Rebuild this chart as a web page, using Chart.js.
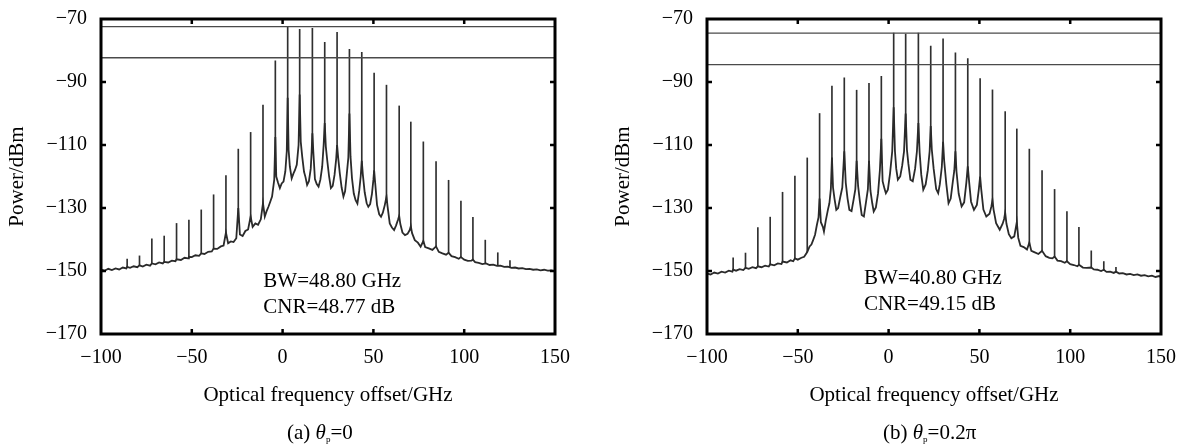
<!DOCTYPE html>
<html>
<head>
<meta charset="utf-8">
<script src="https://cdn.jsdelivr.net/npm/chart.js@4.4.1/dist/chart.umd.min.js"></script>
<style>
    html, body { margin: 0; padding: 0; background: #fff; }
    body { width: 1192px; height: 445px; position: relative; overflow: hidden;
           font-family: "Liberation Serif", "Times New Roman", serif; }
    canvas { position: absolute; top: 0; }
    .caption { position: absolute; top: 420px; font-size: 21px; line-height: 25px; color: #000; white-space: nowrap; }
    .caption sub { font-size: 9px; vertical-align: -3px; }
</style>
</head>
<body>
<canvas id="chartA" width="580" height="445" style="left:0"></canvas>
<canvas id="chartB" width="580" height="445" style="left:606px"></canvas>
<div class="caption" style="left:287px">(a) <i>θ</i><sub>p</sub>=0</div>
<div class="caption" style="left:883px">(b) <i>θ</i><sub>p</sub>=0.2π</div>
<script>
const FONT = '"Liberation Serif", "Times New Roman", serif';

// Limites dos eixos (iguais nos dois gráficos)
const freqMin = -100, freqMax = 150;
const powMin = -170, powMax = -70;

// Linhas do pente óptico (GHz) - mesmas posições em (a) e (b)
const combFreq = [-85.6, -78.8, -72.0, -65.2, -58.4, -51.6, -44.8, -38.0, -31.2, -24.4, -17.6, -10.8, -4.0,
    2.8, 9.4, 16.4, 23.2, 30.0, 36.8, 43.6, 50.4, 57.2, 64.2, 70.6, 77.5, 84.5, 91.4, 98.2, 104.8, 111.6, 118.5, 125.2];

/* ---------- (a) θp = 0 ---------- */
const combPeakA = [-146.2, -145.2, -139.8, -138.9, -134.9, -133.8, -130.6, -125.8, -119.7, -111.3, -106.0, -97.3, -83.3,
    -72.4, -73.3, -73.0, -77.4, -74.2, -79.6, -80.6, -87.2, -91.0, -97.6, -102.7, -109.0, -115.3, -121.2, -127.8, -133.0, -140.2, -144.2, -146.7];

const floorFreqA = [
    -100, -98, -96, -94, -92, -90, -88, -86, -85.6, -84, -82, -80, -78.8, -77, -75, -73, -72, -70, -68, -66,
    -65.2, -63, -61, -59, -58.4, -56, -54, -52, -51.6, -50, -48, -46, -44.8, -43, -41, -39, -38, -36, -34, -32.5,
    -31.2, -30, -28.5, -27, -25.5, -24.4, -23.5, -22, -20.5, -19, -17.6, -16.5, -15, -13.5, -12, -10.8, -9.8, -8.8, -7.8, -6.8,
    -5.8, -4.6, -4.0, -3.5, -2.5, -1.5, -0.5, 0.5, 1.5, 2.3, 2.8, 3.3, 4.0, 5.0, 6.0, 6.8, 7.8, 8.8, 9.4, 10.0,
    10.8, 11.8, 12.6, 13.5, 14.5, 15.5, 16.0, 16.4, 16.9, 17.8, 18.8, 19.8, 20.8, 21.8, 22.6, 23.2, 23.8, 24.6, 25.6, 26.6,
    27.6, 28.6, 29.5, 30.0, 30.6, 31.5, 32.5, 33.5, 34.4, 35.3, 36.2, 36.8, 37.4, 38.2, 39.2, 40.2, 41.2, 42.2, 43.0, 43.6,
    44.2, 45.2, 46.3, 47.2, 48.2, 49.2, 50.0, 50.4, 50.9, 52.0, 53.2, 54.2, 55.2, 56.3, 57.2, 57.8, 59.0, 60.2, 61.4, 62.5,
    63.5, 64.2, 64.8, 66.0, 67.4, 68.8, 70.0, 70.6, 71.3, 72.8, 74.5, 76.0, 77.5, 78.5, 80.5, 82.5, 84.5, 86, 88, 90,
    91.4, 93, 95, 97, 98.2, 100, 102, 104, 104.8, 106, 108, 110, 112, 114, 116, 118, 120, 122, 124, 126,
    128, 130, 132, 134, 136, 138, 140, 142, 144, 146, 148, 150];
const floorPowA = [
    -149.6, -149.9, -149.3, -149.7, -149.2, -149.5, -148.9, -149.2, -148.7, -149.0, -148.5, -148.8, -148.2, -148.6, -148.0, -148.3, -147.6, -147.9, -147.3, -147.6,
    -147.1, -147.3, -146.7, -146.9, -146.3, -146.5, -145.8, -146.0, -145.5, -145.6, -145.0, -145.2, -144.4, -144.6, -143.9, -143.8, -142.9, -143.0, -142.2, -141.9,
    -137.8, -141.2, -140.6, -140.8, -139.6, -130.0, -138.4, -138.9, -137.3, -136.8, -132.7, -136.0, -134.9, -135.3, -133.6, -128.5, -132.7, -131.0, -129.6, -128.0,
    -126.4, -121.0, -107.5, -120.0, -122.0, -123.7, -122.2, -121.6, -118.4, -112.0, -95.0, -111.5, -116.9, -120.6, -119.0, -118.0, -116.3, -110.0, -94.0, -109.0,
    -113.7, -118.5, -120.2, -122.7, -121.5, -117.5, -112.0, -106.3, -112.0, -120.8, -122.4, -123.2, -121.0, -116.9, -110.0, -103.0, -110.5, -115.0, -120.0, -123.7,
    -123.0, -119.5, -114.5, -110.0, -114.0, -119.0, -123.5, -126.4, -124.7, -119.5, -114.0, -100.0, -113.7, -120.5, -125.4, -127.5, -128.6, -124.5, -120.0, -115.0,
    -119.5, -125.0, -128.5, -129.6, -128.8, -125.5, -121.0, -118.0, -121.5, -129.0, -132.0, -132.8, -131.5, -129.0, -126.4, -129.5, -134.9, -136.2, -137.0, -135.5,
    -133.8, -132.5, -135.0, -137.8, -138.6, -138.2, -137.0, -135.8, -138.0, -140.2, -141.0, -142.3, -140.5, -142.4, -142.8, -143.3, -142.2, -143.9, -144.4, -144.8,
    -144.2, -145.3, -145.6, -146.1, -145.6, -146.4, -146.8, -146.7, -146.4, -147.2, -147.4, -147.8, -147.6, -148.1, -148.0, -148.4, -148.3, -148.7, -148.6, -149.0,
    -148.9, -149.2, -149.1, -149.4, -149.3, -149.6, -149.5, -149.8, -149.6, -149.9, -149.8, -150.1];

const refLevelsA = [-72.4, -82.3];
const notesA = ['BW=48.80 GHz', 'CNR=48.77 dB'];

/* ---------- (b) θp = 0.2π ---------- */
const combPeakB = [-145.8, -144.3, -136.2, -132.9, -125.0, -119.9, -114.1, -100.0, -91.3, -88.7, -92.6, -90.4, -88.2,
    -74.5, -74.8, -74.5, -78.6, -76.3, -80.7, -82.6, -88.9, -92.5, -99.4, -104.9, -111.3, -118.1, -124.1, -131.1, -136.1, -143.6, -147.0, -148.8];

const floorFreqB = [
    -100, -98, -96, -94, -92, -90, -88, -86, -85.6, -84, -82, -80, -78.8, -77, -75, -73, -72, -70, -68, -66,
    -65.2, -63, -61, -59, -58.4, -56, -54, -52.5, -51.6, -50, -48, -46.5, -44.8, -43.5, -42.5, -41.5, -40.5, -39.5, -38.6, -38.0,
    -37.3, -36.2, -35.6, -34.6, -33.4, -32.6, -31.8, -31.2, -30.6, -29.8, -28.8, -27.8, -26.6, -25.5, -24.4, -23.6, -22.6, -21.6, -20.4, -19.3,
    -18.3, -17.6, -16.8, -15.8, -14.8, -13.6, -12.4, -11.4, -10.8, -10.0, -9.0, -8.2, -7.0, -5.8, -4.8, -4.0, -3.3, -2.2, -1.5, -0.4,
    0.8, 2.0, 2.8, 3.5, 4.2, 5.1, 6.4, 7.5, 8.5, 9.4, 10.1, 10.9, 12.0, 13.3, 14.6, 15.6, 16.4, 17.1, 18.0, 19.1,
    20.4, 21.6, 22.6, 23.2, 23.8, 24.8, 26.2, 27.3, 28.2, 29.3, 30.0, 30.6, 31.8, 33.0, 34.2, 35.4, 36.2, 36.8, 37.4, 38.6,
    40.2, 41.6, 42.8, 43.6, 44.4, 45.4, 47.0, 48.6, 49.6, 50.4, 51.0, 52.2, 53.8, 55.6, 56.6, 57.2, 57.8, 59.2, 61.2, 62.8,
    63.6, 64.2, 64.9, 66.2, 67.6, 69.2, 70.6, 71.4, 72.6, 74.4, 76.2, 77.5, 78.6, 80.5, 82.5, 84.5, 86.5, 88.5, 90.2, 91.4,
    93, 95, 97, 98.2, 100, 102, 104, 104.8, 107, 109, 111.6, 113, 115, 117, 118.5, 120, 122, 124, 125.2, 127,
    129, 131, 133, 135, 137, 139, 141, 143, 145, 147, 149, 150];
const floorPowB = [
    -150.8, -151.1, -150.5, -150.8, -150.2, -150.5, -149.9, -150.2, -149.6, -149.9, -149.4, -149.7, -149.0, -149.3, -148.8, -149.1, -148.5, -148.8, -148.3, -148.6,
    -147.9, -148.2, -147.6, -147.8, -147.0, -147.3, -146.6, -146.9, -146.0, -146.4, -145.8, -145.5, -144.0, -142.2, -141.6, -140.1, -138.5, -135.4, -133.0, -127.0,
    -134.5, -136.0, -137.5, -134.0, -130.5, -128.5, -124.0, -114.0, -123.5, -127.0, -130.6, -130.0, -126.5, -123.5, -112.0, -122.0, -127.0, -130.6, -131.0, -127.4,
    -124.0, -115.0, -123.0, -128.0, -132.2, -132.7, -128.0, -124.0, -115.0, -124.5, -128.5, -131.1, -129.8, -125.3, -118.0, -108.0, -121.5, -124.0, -125.3, -124.2,
    -119.0, -112.0, -98.0, -112.0, -117.5, -121.0, -120.0, -116.5, -112.0, -100.0, -111.5, -116.0, -121.0, -121.5, -117.5, -112.0, -103.0, -112.5, -119.5, -124.2,
    -122.5, -118.0, -112.0, -104.0, -111.5, -117.5, -124.0, -125.3, -122.5, -117.0, -109.0, -115.0, -122.5, -128.5, -127.0, -121.5, -118.0, -112.0, -118.5, -125.5,
    -129.5, -128.2, -122.0, -116.8, -122.0, -128.0, -130.6, -129.0, -124.5, -120.0, -124.0, -130.5, -132.7, -131.8, -129.5, -127.5, -130.5, -134.8, -136.9, -135.0,
    -133.5, -131.5, -135.0, -138.3, -139.6, -139.0, -134.5, -139.5, -142.0, -142.4, -143.2, -141.0, -143.6, -144.1, -144.6, -143.6, -145.3, -145.8, -146.0, -145.4,
    -146.7, -146.9, -147.4, -146.9, -147.8, -148.1, -148.5, -148.0, -148.9, -149.0, -148.9, -149.5, -149.6, -150.0, -149.6, -150.3, -150.2, -150.6, -150.2, -150.8,
    -150.7, -151.1, -150.9, -151.3, -151.1, -151.5, -151.3, -151.7, -151.5, -151.9, -151.6, -152.0];

const refLevelsB = [-74.5, -84.5];
const notesB = ['BW=40.80 GHz', 'CNR=49.15 dB'];

/**
 * Troca o hífen pelo sinal de menos tipográfico
 */
function minusSign(value) {
    return String(value).replace('-', '\u2212');
}

/**
 * Moldura do gráfico + marcas de escala para dentro
 */
const frameTicks = {
    id: 'frameTicks',
    afterDatasetsDraw(chart) {
        const { ctx, chartArea: a, scales: { x, y } } = chart;
        const len = 5;
        ctx.save();
        ctx.strokeStyle = '#000';
        ctx.lineWidth = 2.5;
        ctx.beginPath();
        x.ticks.forEach(t => {
            if (t.value <= x.min || t.value >= x.max) return;
            const px = x.getPixelForValue(t.value);
            ctx.moveTo(px, a.bottom); ctx.lineTo(px, a.bottom - len);
            ctx.moveTo(px, a.top); ctx.lineTo(px, a.top + len);
        });
        y.ticks.forEach(t => {
            if (t.value <= y.min || t.value >= y.max) return;
            const py = y.getPixelForValue(t.value);
            ctx.moveTo(a.left, py); ctx.lineTo(a.left + len, py);
            ctx.moveTo(a.right, py); ctx.lineTo(a.right - len, py);
        });
        ctx.stroke();
        ctx.lineWidth = 3;
        ctx.strokeRect(a.left, a.top, a.right - a.left, a.bottom - a.top);
        ctx.restore();
    }
};

/**
 * Texto de anotação (BW / CNR) posicionado em unidades dos eixos
 */
function notePlugin(lines, at) {
    return {
        id: 'noteText',
        afterDraw(chart) {
            const { ctx, scales: { x, y } } = chart;
            ctx.save();
            ctx.font = '21px ' + FONT;
            ctx.fillStyle = '#000';
            ctx.textAlign = 'left';
            ctx.textBaseline = 'middle';
            const px = x.getPixelForValue(at.x);
            let py = y.getPixelForValue(at.y);
            lines.forEach(t => {
                ctx.fillText(t, px, py);
                py += 26;
            });
            ctx.restore();
        }
    };
}

/**
 * Criar um gráfico de espectro
 */
function buildSpectrum(canvasId, floorFreq, floorPow, combPeak, refLevels, notes, noteAt) {
    const floor = floorFreq.map((f, i) => ({ x: f, y: floorPow[i] }));
    const comb = combFreq.map((f, i) => ({ x: f, y: combPeak[i] }));
    const refs = refLevels.map(level => ({
        type: 'line',
        data: [{ x: freqMin, y: level }, { x: freqMax, y: level }],
        borderColor: '#4a4a4a',
        borderWidth: 1.3,
        pointRadius: 0,
        order: 0
    }));

    return new Chart(document.getElementById(canvasId), {
        type: 'line',
        data: {
            datasets: [
                {
                    // linhas do pente: barras finas desde o fundo, tapadas abaixo do ruído
                    type: 'bar',
                    data: comb,
                    base: powMin,
                    barThickness: 1,
                    backgroundColor: '#2f2f2f',
                    order: 3
                },
                {
                    type: 'line',
                    data: floor,
                    borderColor: '#2a2a2a',
                    borderWidth: 1.8,
                    pointRadius: 0,
                    tension: 0,
                    fill: 'start',
                    backgroundColor: '#ffffff',
                    order: 2
                },
                ...refs
            ]
        },
        options: {
            responsive: false,
            animation: false,
            devicePixelRatio: 1,
            layout: { padding: { left: 5, right: 25, top: 19, bottom: 37 }, autoPadding: false },
            plugins: { legend: { display: false }, tooltip: { enabled: false } },
            scales: {
                x: {
                    type: 'linear',
                    min: freqMin,
                    max: freqMax,
                    offset: false,
                    grid: { display: false, drawTicks: false, offset: false },
                    border: { display: false },
                    ticks: {
                        stepSize: 50,
                        padding: 12,
                        color: '#000',
                        font: { family: FONT, size: 20 },
                        maxRotation: 0,
                        callback: v => minusSign(v)
                    },
                    title: {
                        display: true,
                        text: 'Optical frequency offset/GHz',
                        color: '#000',
                        font: { family: FONT, size: 21 },
                        padding: 0
                    },
                    afterFit: s => {
                        s.height = 74;
                        s.paddingLeft = 0;
                        s.paddingRight = 0;
                    }
                },
                y: {
                    min: powMin,
                    max: powMax,
                    grid: { display: false, drawTicks: false },
                    border: { display: false },
                    ticks: {
                        stepSize: 20,
                        padding: 14,
                        color: '#000',
                        font: { family: FONT, size: 20 },
                        callback: v => minusSign(v)
                    },
                    title: {
                        display: true,
                        text: 'Power/dBm',
                        color: '#000',
                        font: { family: FONT, size: 21 },
                        padding: 0
                    },
                    afterFit: s => {
                        s.width = 96;
                        // sem margem extra em cima/baixo: a área útil fica fixa
                        s.paddingTop = 0;
                        s.paddingBottom = 0;
                    }
                }
            }
        },
        plugins: [frameTicks, notePlugin(notes, noteAt)]
    });
}

buildSpectrum('chartA', floorFreqA, floorPowA, combPeakA, refLevelsA, notesA, { x: -10.6, y: -153.3 });
buildSpectrum('chartB', floorFreqB, floorPowB, combPeakB, refLevelsB, notesB, { x: -13.6, y: -152.5 });
</script>
</body>
</html>
